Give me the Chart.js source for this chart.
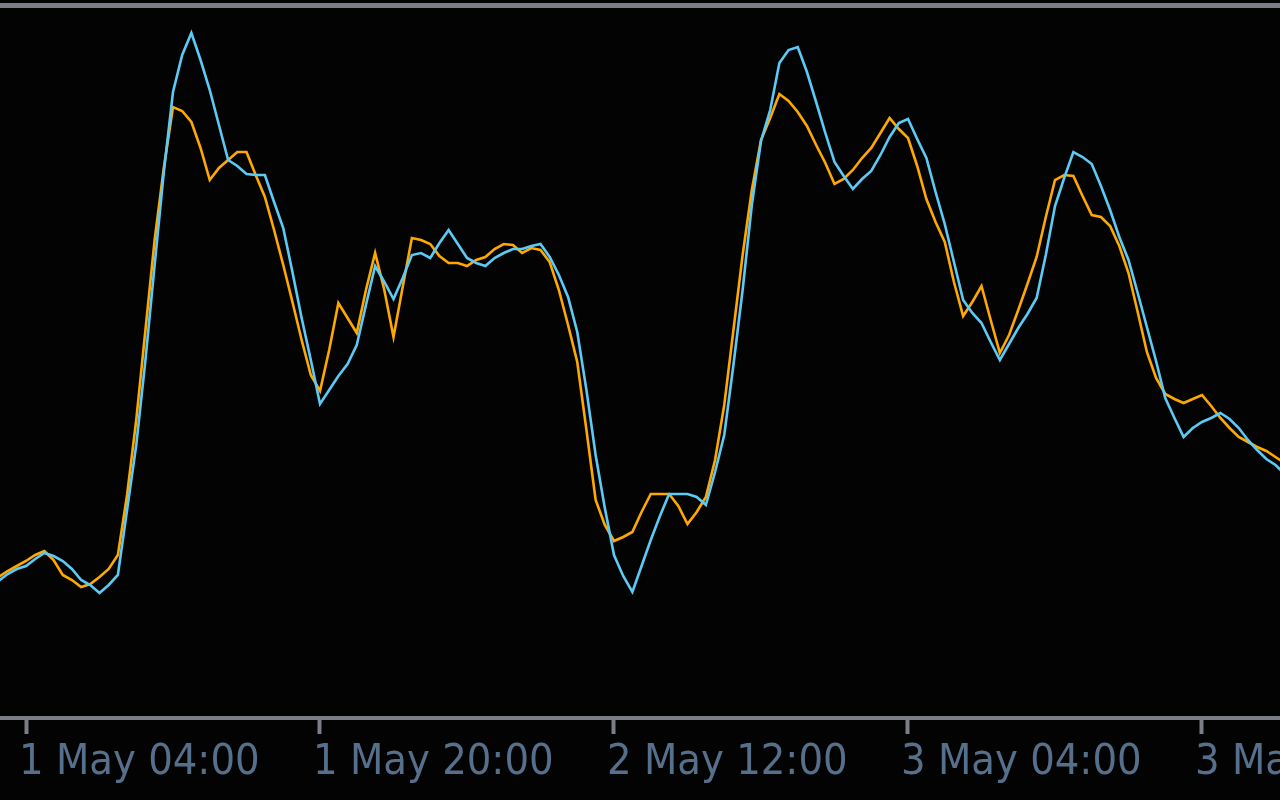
<!DOCTYPE html>
<html>
<head>
<meta charset="utf-8">
<script src="https://cdn.jsdelivr.net/npm/chart.js@4.4.1/dist/chart.umd.min.js"></script>
<style>
  html, body { margin: 0; padding: 0; background: #030304; }
  #wrap { width: 1280px; height: 800px; }
</style>
</head>
<body>
<div id="wrap"><canvas id="chart"></canvas></div>
<script>
// hours counted from 1 May 00:00, half-hour steps
const hours = [
    2.5, 3, 3.5, 4, 4.5, 5, 5.5, 6, 6.5, 7, 7.5, 8, 8.5, 9, 9.5, 10, 10.5, 11, 11.5, 12,
    12.5, 13, 13.5, 14, 14.5, 15, 15.5, 16, 16.5, 17, 17.5, 18, 18.5, 19, 19.5, 20, 20.5, 21, 21.5, 22,
    22.5, 23, 23.5, 24, 24.5, 25, 25.5, 26, 26.5, 27, 27.5, 28, 28.5, 29, 29.5, 30, 30.5, 31, 31.5, 32,
    32.5, 33, 33.5, 34, 34.5, 35, 35.5, 36, 36.5, 37, 37.5, 38, 38.5, 39, 39.5, 40, 40.5, 41, 41.5, 42,
    42.5, 43, 43.5, 44, 44.5, 45, 45.5, 46, 46.5, 47, 47.5, 48, 48.5, 49, 49.5, 50, 50.5, 51, 51.5, 52,
    52.5, 53, 53.5, 54, 54.5, 55, 55.5, 56, 56.5, 57, 57.5, 58, 58.5, 59, 59.5, 60, 60.5, 61, 61.5, 62,
    62.5, 63, 63.5, 64, 64.5, 65, 65.5, 66, 66.5, 67, 67.5, 68, 68.5, 69, 69.5, 70, 70.5, 71, 71.5, 72,
    72.5
];

const fastLine = [
    139, 145, 150, 155, 161, 165, 156, 141, 136, 129, 132, 139, 147, 161, 221, 296, 386, 476, 548, 609,
    605, 594, 568, 536, 548, 556, 564, 564, 541, 519, 486, 451, 414, 376, 341, 325, 366, 413, 398, 383,
    426, 463, 426, 379, 429, 478, 476, 472, 460, 453, 453, 450, 456, 459, 467, 472, 471, 463, 468, 466,
    454, 426, 391, 354, 286, 216, 191, 175, 179, 184, 204, 222, 222, 222, 210, 192, 204, 219, 256, 311,
    386, 461, 526, 576, 598, 622, 615, 604, 590, 571, 553, 532, 537, 546, 558, 568, 583, 598, 587, 578,
    550, 517, 494, 474, 434, 400, 414, 430, 396, 363, 381, 406, 432, 459, 499, 536, 541, 540, 520, 501,
    499, 490, 470, 443, 404, 364, 338, 322, 317, 313, 317, 321, 310, 298, 288, 279, 274, 269, 265, 259,
    253
];

const slowLine = [
    135, 142, 147, 150, 157, 163, 160, 155, 147, 136, 131, 123, 131, 141, 206, 271, 356, 451, 544, 624,
    661, 683, 656, 626, 591, 556, 550, 542, 541, 541, 514, 488, 444, 398, 356, 312, 326, 340, 352, 371,
    411, 450, 434, 417, 438, 461, 463, 458, 473, 486, 472, 458, 453, 450, 458, 463, 467, 467, 470, 472,
    459, 441, 419, 384, 326, 261, 208, 161, 140, 124, 150, 176, 200, 222, 222, 222, 219, 211, 244, 281,
    351, 426, 511, 575, 606, 653, 666, 669, 644, 614, 583, 554, 540, 527, 537, 545, 561, 579, 593, 597,
    577, 558, 524, 492, 454, 416, 403, 393, 374, 356, 372, 388, 402, 418, 461, 510, 538, 564, 559, 552,
    530, 506, 479, 456, 423, 389, 355, 318, 298, 279, 288, 294, 298, 303, 297, 288, 276, 266, 257, 251,
    242
];

const tickHours = [4, 20, 36, 52, 68];

function fmtTime(h) {
    const day = 1 + Math.floor(h / 24);
    const hh = String(h % 24).padStart(2, '0');
    return day + ' May ' + hh + ':00';
}

const bgPlugin = {
    id: 'terminalBg',
    beforeDraw(chart) {
        const c = chart.ctx;
        c.save();
        c.fillStyle = '#030304';
        c.fillRect(0, 0, chart.width, chart.height);
        c.fillStyle = '#7b7d87';
        c.fillRect(0, chart.chartArea.top - 5, chart.width, 5);
        c.restore();
    }
};

new Chart(document.getElementById('chart'), {
    type: 'line',
    data: {
        datasets: [
            {
                label: 'Slow',
                data: hours.map((h, i) => ({ x: h, y: slowLine[i] })),
                borderColor: '#5bcbf6',
                borderWidth: 2.6,
                pointRadius: 0,
                tension: 0,
                order: 0
            },
            {
                label: 'Fast',
                data: hours.map((h, i) => ({ x: h, y: fastLine[i] })),
                borderColor: '#ffa800',
                borderWidth: 2.6,
                pointRadius: 0,
                tension: 0,
                order: 1
            }
        ]
    },
    options: {
        responsive: true,
        maintainAspectRatio: false,
        animation: false,
        layout: { padding: { top: 8, left: 0, right: 0, bottom: 0 } },
        plugins: {
            legend: { display: false },
            tooltip: { enabled: false }
        },
        scales: {
            x: {
                type: 'linear',
                min: 2.585,
                max: 72.245,
                afterBuildTicks: (scale) => { scale.ticks = tickHours.map(v => ({ value: v })); },
                afterFit: (scale) => { scale.height = 82; scale.paddingLeft = 0; scale.paddingRight = 0; },
                grid: { drawOnChartArea: false, tickLength: 16, tickWidth: 4, tickColor: '#7b7d87' },
                border: { display: true, color: '#7b7d87', width: 4 },
                ticks: {
                    autoSkip: false,
                    maxRotation: 0,
                    align: 'start',
                    labelOffset: -7,
                    padding: 3,
                    color: '#56708b',
                    font: { family: "'DejaVu Sans Condensed', 'Liberation Sans', sans-serif", size: 43 },
                    callback: (v) => fmtTime(v)
                }
            },
            y: {
                display: false,
                min: -2,
                max: 708
            }
        }
    },
    plugins: [bgPlugin]
});
</script>
</body>
</html>
